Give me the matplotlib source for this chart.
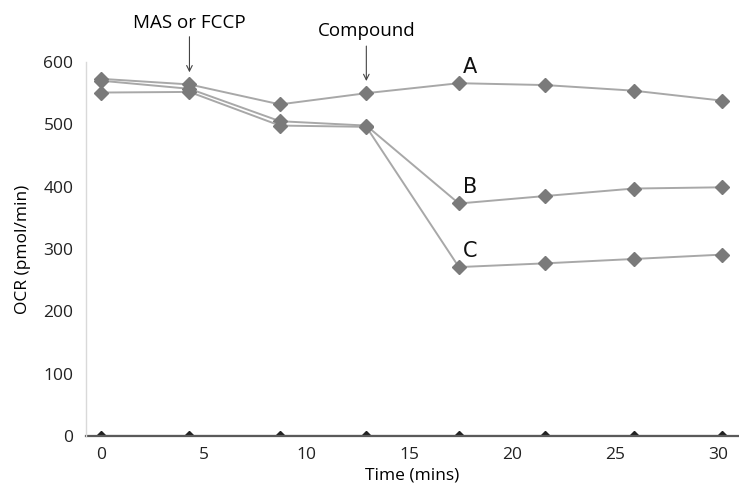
import matplotlib
matplotlib.use('Agg')
import matplotlib.pyplot as plt

# measurement times (mins) and OCR values (pmol/min)
times = [0, 4.3, 8.7, 12.9, 17.4, 21.6, 25.9, 30.2]
ocr_a = [573, 564, 532, 550, 566, 563, 554, 538]
ocr_b = [570, 557, 505, 498, 373, 385, 397, 399]
ocr_c = [551, 552, 498, 496, 271, 277, 284, 291]
ocr_blank = [0, 0, 0, 0, 0, 0, 0, 0]

series_names = ['A', 'B', 'C']
x_ticks = [0, 5, 10, 15, 20, 25, 30]
y_ticks = [0, 100, 200, 300, 400, 500, 600]

plt.rcParams['font.family'] = ['Open Sans', 'DejaVu Sans']

fig = plt.figure(figsize=(7.39, 4.9), dpi=100)
ax = fig.add_axes([86 / 739, 54 / 490, 653 / 739, 374 / 490])

line_col = '#a8a8a8'
mark_col = '#7a7a7a'
for vals in [ocr_a, ocr_b, ocr_c]:
    ax.plot(times, vals, color=line_col, lw=1.4, marker='D', markersize=7,
            markerfacecolor=mark_col, markeredgecolor=mark_col, zorder=3)

ax.plot(times, ocr_blank, color='#444444', lw=1.5, marker='D', markersize=5,
        markerfacecolor='#222222', markeredgecolor='#222222', zorder=1, clip_on=True)

ax.set_xlim(-0.73, 31.02)
ax.set_ylim(0, 600)
ax.set_xticks(x_ticks)
ax.set_yticks(y_ticks)
ax.tick_params(length=0, labelsize=12.5, colors='#222222')
ax.tick_params(axis='x', pad=8)
ax.tick_params(axis='y', pad=9)

for s in ['top', 'right']:
    ax.spines[s].set_visible(False)
ax.spines['left'].set_color('#d9d9d9')
ax.spines['left'].set_linewidth(1.0)
ax.spines['bottom'].set_color('#5a5a5a')
ax.spines['bottom'].set_linewidth(1.6)
ax.spines['bottom'].set_zorder(2)

ax.set_xlabel('Time (mins)', fontsize=12.5, labelpad=3)
ax.set_ylabel('OCR (pmol/min)', fontsize=12.5, labelpad=9)

# injection arrows
ax.annotate('', xy=(times[1], 579), xytext=(times[1], 645),
            arrowprops=dict(arrowstyle='->', color='#444444', lw=0.8),
            annotation_clip=False)
ax.text(times[1], 648, 'MAS or FCCP', ha='center', va='bottom', fontsize=13.5,
        clip_on=False)
ax.annotate('', xy=(times[3], 565), xytext=(times[3], 630),
            arrowprops=dict(arrowstyle='->', color='#444444', lw=0.8),
            annotation_clip=False)
ax.text(times[3], 636, 'Compound', ha='center', va='bottom', fontsize=13.5,
        clip_on=False)

# series letters
for name, vals in zip(series_names, [ocr_a, ocr_b, ocr_c]):
    ax.text(times[4] + 0.55, vals[4] + 26, name, ha='center', va='center',
            fontsize=15, family='DejaVu Sans', color='#111111')

fig.savefig('out.png', dpi=100)
